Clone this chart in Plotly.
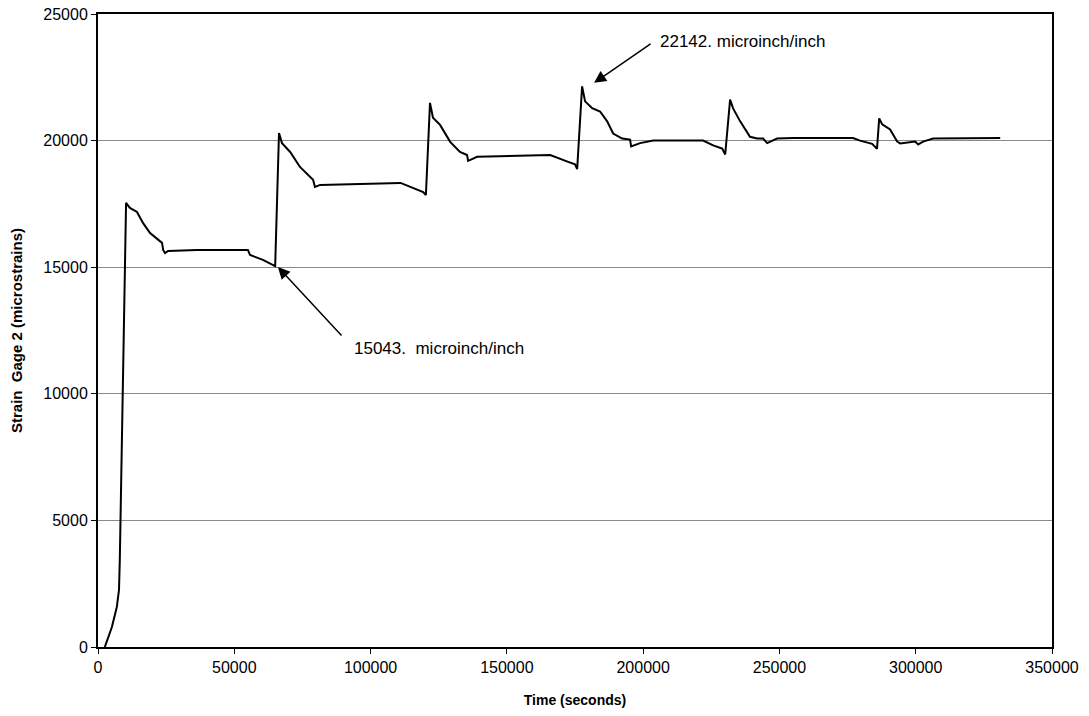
import plotly.graph_objects as go

# Time (seconds)
time_s = [2500, 5100, 6900, 7700, 8000, 9200, 10300, 11700, 14300, 16500, 19100,
          23500, 23900, 24600, 25700, 36300, 55000, 55800, 60500, 65000,
          66400, 67500, 70500, 74100, 78900, 79600, 81500, 111000, 119300, 120300,
          121800, 122900, 125500, 129200, 132800, 135400, 135800, 139100, 165900,
          172500, 175000, 175800, 177600, 178700, 181300, 184200, 186800, 189000,
          192300, 195200, 195600, 198900, 203700, 222000, 225700, 229000, 230100,
          231900, 233000, 235600, 239200, 241800, 244000, 245500, 249100, 255000,
          277000, 279600, 284000, 285800, 286600, 287700, 290600, 293200, 294300,
          299800, 300900, 302700, 306400, 331000]
# Strain Gage 2 (microstrains)
strain = [0, 790, 1580, 2250, 3440, 11300, 17540, 17340, 17180, 16750, 16350,
          15960, 15680, 15560, 15640, 15680, 15680, 15480, 15290, 15043,
          20300, 19900, 19550, 18960, 18450, 18170, 18250, 18330, 17970, 17850,
          21490, 20900, 20620, 19950, 19550, 19430, 19200, 19360, 19430,
          19160, 19060, 18880, 22142, 21550, 21280, 21150, 20760, 20280,
          20080, 20040, 19770, 19900, 20000, 20000, 19810, 19690, 19450,
          21620, 21270, 20760, 20150, 20080, 20080, 19900, 20080, 20100,
          20100, 20000, 19870, 19680, 20880, 20640, 20440, 19960, 19890,
          19960, 19850, 19960, 20080, 20100]

x_ticks = [0, 50000, 100000, 150000, 200000, 250000, 300000, 350000]
y_ticks = [0, 5000, 10000, 15000, 20000, 25000]

ann_low_text = "15043.\u00a0\u00a0microinch/inch"
ann_high_text = "22142. microinch/inch"

fig = go.Figure()
fig.add_trace(go.Scatter(x=time_s, y=strain, mode="lines",
                         line=dict(color="black", width=2), showlegend=False,
                         hoverinfo="skip"))

font_main = "Liberation Sans, Arial, sans-serif"

# Arrows
fig.add_annotation(x=66000, y=15010, xref="x", yref="y", text="", showarrow=True,
                   ax=65, ay=70, arrowhead=2, arrowsize=1.6, arrowwidth=1.5,
                   arrowcolor="black")
fig.add_annotation(x=93200, y=11770, xref="x", yref="y", text=ann_low_text,
                   showarrow=False, xanchor="left", yanchor="middle",
                   font=dict(family=font_main, size=17, color="black"))
fig.add_annotation(x=182000, y=22280, xref="x", yref="y", text="", showarrow=True,
                   ax=58, ay=-40, arrowhead=2, arrowsize=1.6, arrowwidth=1.5,
                   arrowcolor="black")
fig.add_annotation(x=205400, y=23900, xref="x", yref="y", text=ann_high_text,
                   showarrow=False, xanchor="left", yanchor="middle",
                   font=dict(family=font_main, size=17, color="black"))

fig.update_layout(
    width=1089, height=716,
    margin=dict(l=98, r=37, t=14, b=69),
    paper_bgcolor="white", plot_bgcolor="white",
    font=dict(family=font_main, color="black"),
)
fig.update_xaxes(range=[0, 350000], tickvals=x_ticks,
                 ticktext=[str(v) for v in x_ticks], automargin=False,
                 showgrid=False, zeroline=False,
                 showline=True, linecolor="black", linewidth=2, mirror=True,
                 ticks="outside", ticklen=5, tickcolor="black", tickwidth=1,
                 tickfont=dict(size=16, family=font_main, color="black"),
                 title=dict(text="<b>Time (seconds)</b>",
                            font=dict(size=14, family=font_main, color="black"),
                            standoff=20))
fig.update_yaxes(range=[0, 25000], tickvals=y_ticks,
                 ticktext=[str(v) for v in y_ticks], automargin=False,
                 showgrid=True, gridcolor="#8a8a8a", gridwidth=1, zeroline=False,
                 showline=True, linecolor="black", linewidth=2, mirror=True,
                 ticks="outside", ticklen=5, tickcolor="black", tickwidth=1,
                 tickfont=dict(size=16, family=font_main, color="black"),
                 title=dict(text="<b>Strain\u00a0\u00a0Gage 2 (microstrains)</b>",
                            font=dict(size=15, family=font_main, color="black"),
                            standoff=17))

fig.write_html("out.html", config={"displayModeBar": False},
               post_script="document.body.style.margin='0';document.body.style.overflow='hidden';")
